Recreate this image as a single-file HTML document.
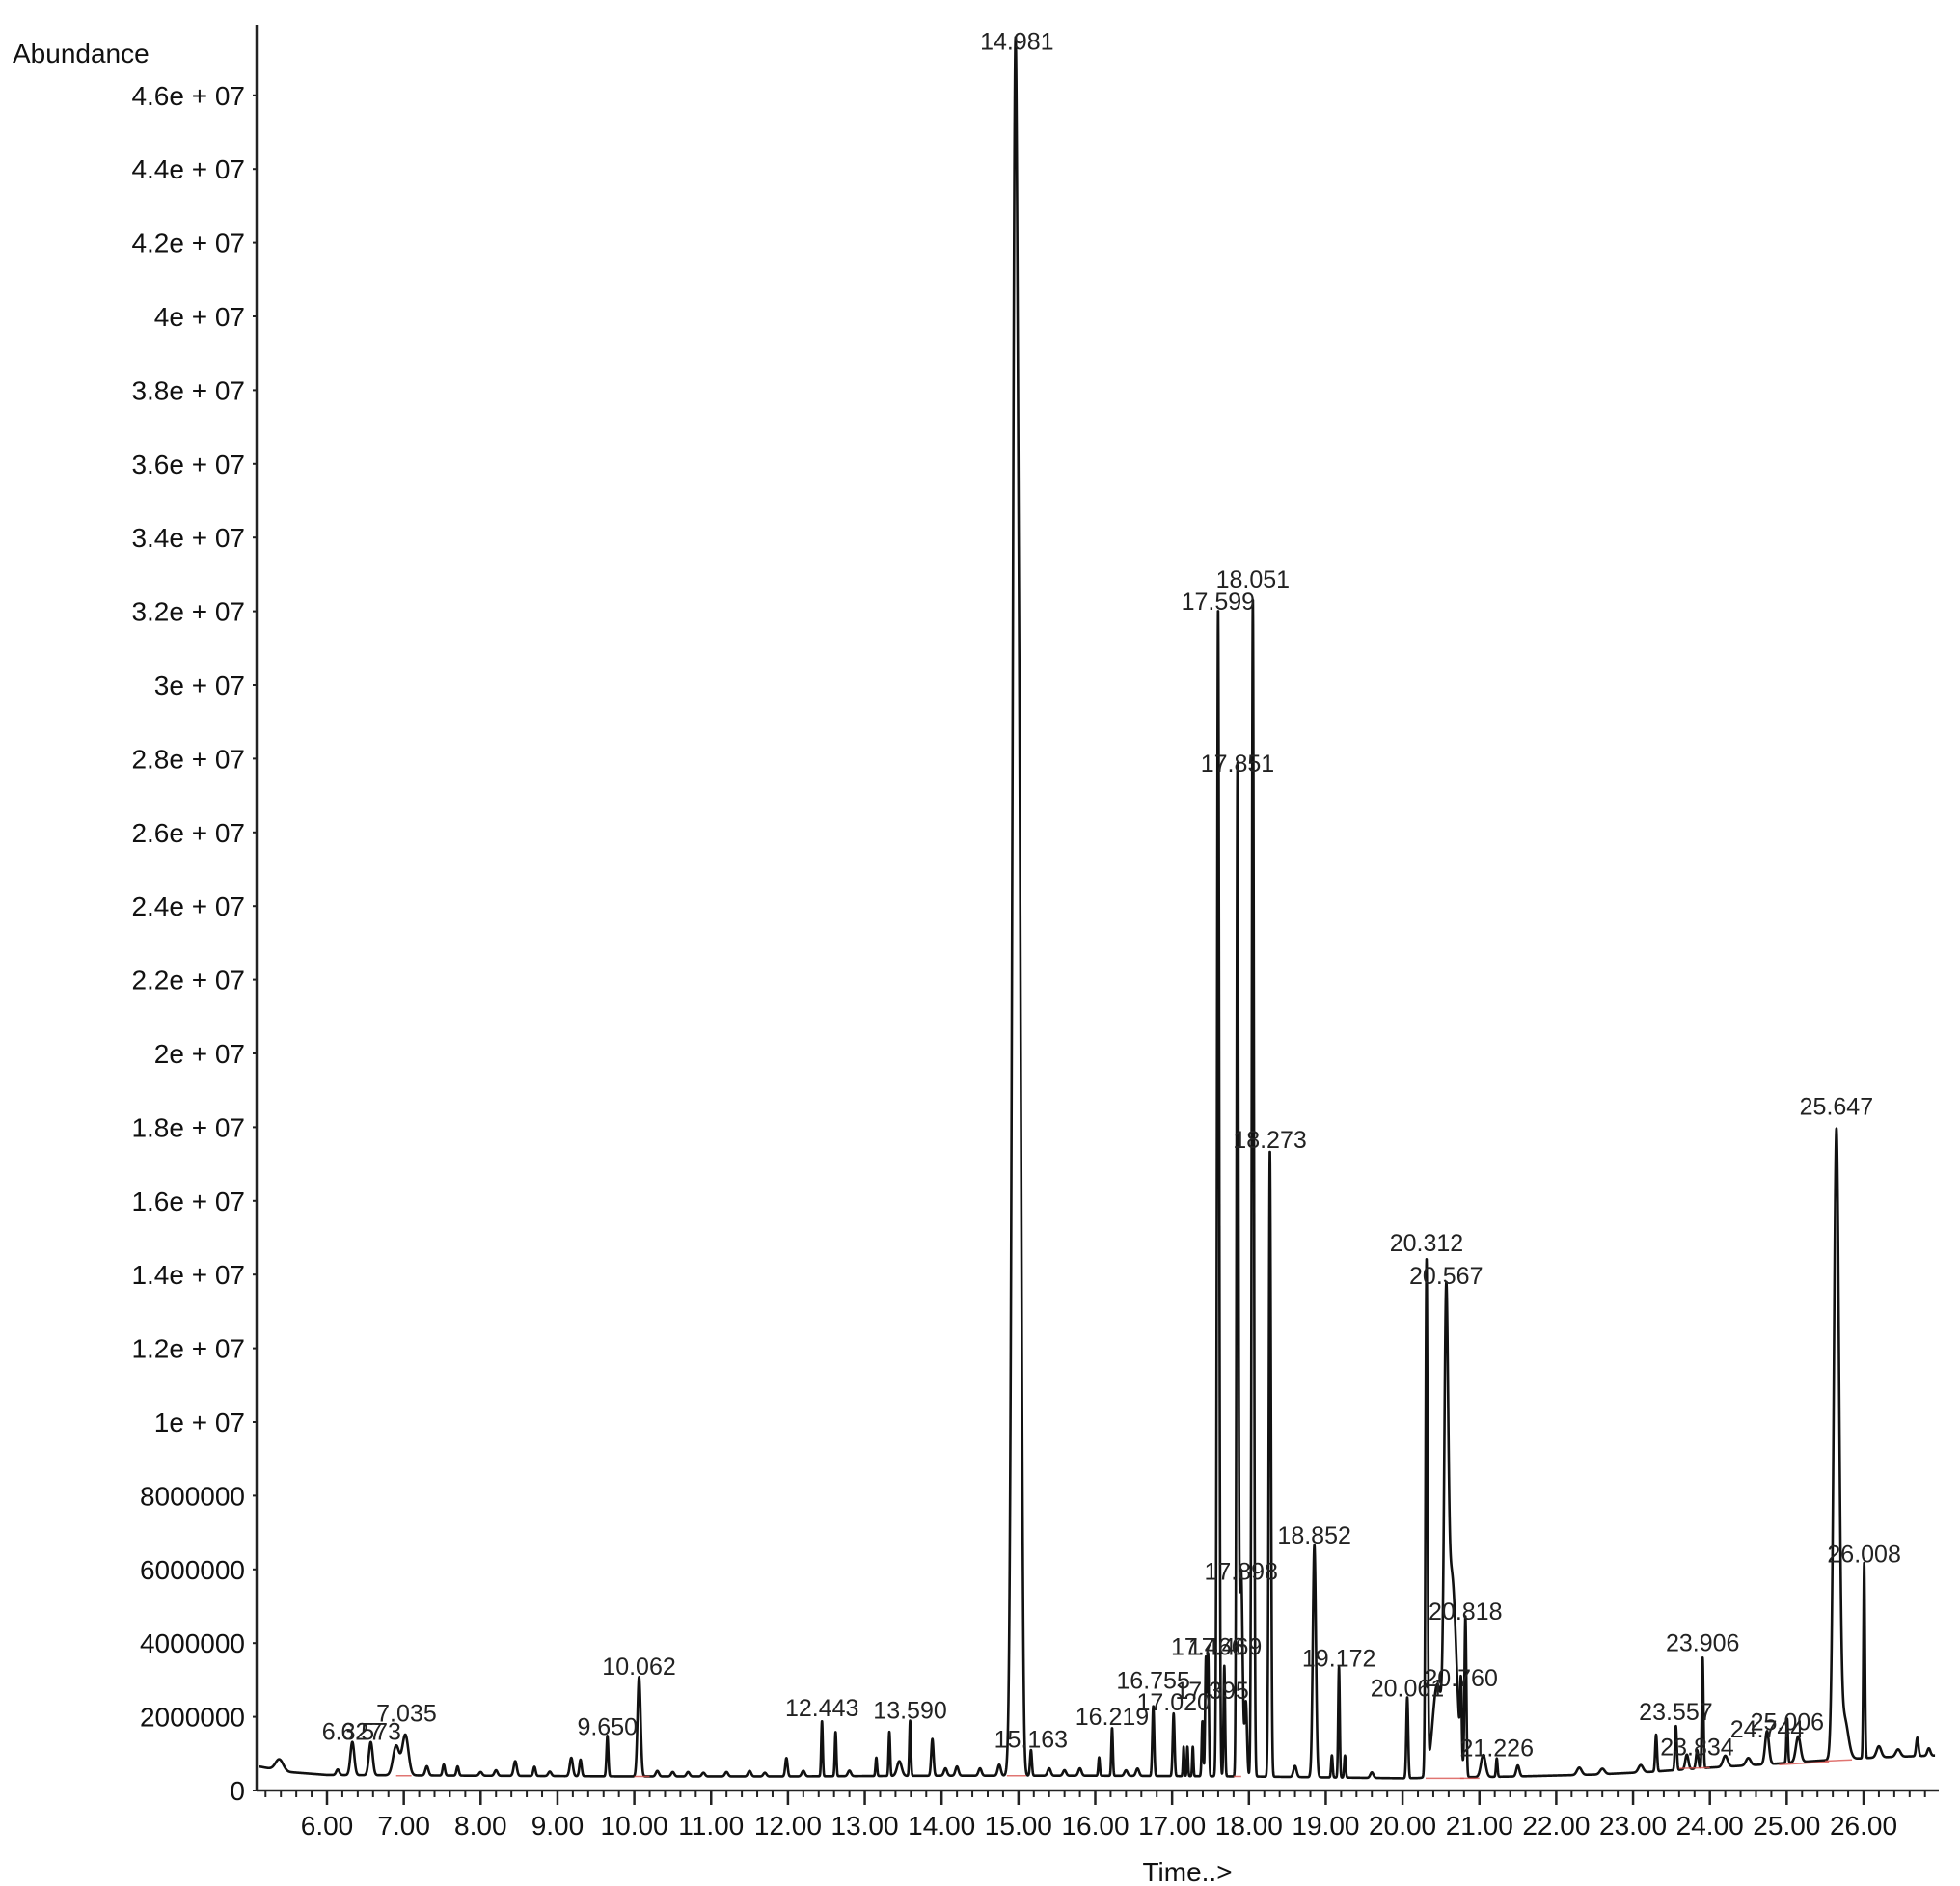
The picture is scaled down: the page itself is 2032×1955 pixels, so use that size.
<!DOCTYPE html>
<html><head><meta charset="utf-8">
<style>
html,body{margin:0;padding:0;background:#fff;}
svg{display:block;}
text{font-family:"Liberation Sans",Arial,sans-serif;}
</style></head>
<body>
<svg id="chart" width="2032" height="1955" viewBox="0 0 2032 1955" xmlns="http://www.w3.org/2000/svg">
<rect x="0" y="0" width="2032" height="1955" fill="#fff"/>
<g id="axes"></g>
<g id="marks"></g>
<g id="labels"></g>
</svg>
<script>
// ---- data ----
const xTicks = [6,7,8,9,10,11,12,13,14,15,16,17,18,19,20,21,22,23,24,25,26];
const yTickValues = [0,2e6,4e6,6e6,8e6,1e7,1.2e7,1.4e7,1.6e7,1.8e7,2e7,2.2e7,2.4e7,2.6e7,2.8e7,3e7,3.2e7,3.4e7,3.6e7,3.8e7,4e7,4.2e7,4.4e7,4.6e7];
const yTickLabels = ["0","2000000","4000000","6000000","8000000","1e + 07","1.2e + 07","1.4e + 07","1.6e + 07","1.8e + 07","2e + 07","2.2e + 07","2.4e + 07","2.6e + 07","2.8e + 07","3e + 07","3.2e + 07","3.4e + 07","3.6e + 07","3.8e + 07","4e + 07","4.2e + 07","4.4e + 07","4.6e + 07"];
// baseline: retention time (min), abundance
const baseTimes = [5.12,5.5,6.0,8.0,10.0,12.0,14.0,16.0,18.0,20.0,21.5,22.5,23.2,24.0,24.8,25.5,26.2,26.93];
const baseValues = [650000,500000,420000,400000,380000,380000,400000,400000,380000,330000,380000,430000,500000,620000,720000,820000,900000,950000];
// peaks: retention time, height above baseline, width (sigma, min)
const peakTimes = [5.38,6.14,6.33,6.57,6.9,7.02,7.3,7.52,7.7,8.0,8.2,8.45,8.7,8.9,9.18,9.3,9.65,10.062,10.3,10.5,10.7,10.9,11.2,11.5,11.7,11.98,12.2,12.443,12.62,12.8,13.15,13.32,13.45,13.59,13.88,14.05,14.2,14.5,14.75,14.96,15.02,15.163,15.4,15.6,15.8,16.05,16.219,16.4,16.55,16.755,17.02,17.15,17.2,17.27,17.395,17.44,17.469,17.599,17.68,17.851,17.898,17.96,18.051,18.273,18.6,18.852,19.08,19.172,19.25,19.6,20.061,20.312,20.45,20.567,20.64,20.76,20.818,21.05,21.226,21.5,22.3,22.6,23.1,23.3,23.557,23.7,23.834,23.906,24.2,24.5,24.744,25.006,25.15,25.647,25.75,26.008,26.2,26.45,26.7,26.85];
const peakHeights = [300000,150000,900000,900000,800000,1100000,250000,300000,250000,100000,150000,400000,250000,120000,500000,450000,1100000,2700000,150000,120000,120000,100000,120000,150000,100000,500000,150000,1500000,1200000,150000,500000,1200000,400000,1500000,1000000,200000,250000,200000,300000,46300000,14000000,700000,200000,150000,200000,500000,1300000,150000,200000,1900000,1700000,800000,800000,800000,1500000,3200000,3300000,31700000,3000000,27200000,5600000,2000000,32000000,17000000,300000,6300000,600000,3000000,600000,150000,2200000,13900000,2500000,10400000,5500000,2000000,4300000,600000,500000,300000,200000,150000,200000,1000000,1200000,400000,500000,3000000,300000,200000,900000,1200000,700000,17000000,1100000,5300000,300000,200000,500000,200000];
const peakWidths = [0.05,0.02,0.025,0.025,0.04,0.04,0.02,0.015,0.015,0.02,0.02,0.02,0.015,0.02,0.02,0.015,0.012,0.02,0.02,0.02,0.02,0.02,0.02,0.02,0.02,0.015,0.02,0.01,0.01,0.02,0.01,0.01,0.03,0.01,0.015,0.02,0.02,0.02,0.02,0.036,0.025,0.012,0.02,0.02,0.02,0.01,0.01,0.02,0.02,0.012,0.012,0.008,0.008,0.008,0.01,0.01,0.01,0.014,0.01,0.012,0.02,0.015,0.014,0.014,0.02,0.02,0.01,0.01,0.01,0.02,0.012,0.013,0.06,0.025,0.06,0.01,0.012,0.03,0.01,0.02,0.03,0.03,0.03,0.012,0.012,0.02,0.015,0.01,0.03,0.03,0.025,0.01,0.03,0.034,0.05,0.01,0.03,0.03,0.015,0.02];
// peak labels: text, retention time, abundance at label
const labelTexts = ["14.981","17.599","18.051","17.851","18.273","20.312","20.567","25.647","26.008","18.852","17.898","20.818","23.906","19.172","17.466","17.469","20.760","16.755","20.061","17.020","17.395","10.062","7.035","12.443","13.590","6.327","6.573","9.650","16.219","23.557","25.006","24.744","15.163","21.226","23.834"];
const labelTimes = [14.981,17.599,18.051,17.851,18.273,20.312,20.567,25.647,26.008,18.852,17.898,20.818,23.906,19.172,17.466,17.69,20.760,16.755,20.061,17.020,17.52,10.062,7.035,12.443,13.590,6.327,6.573,9.650,16.219,23.557,25.006,24.744,15.163,21.226,23.834];
const labelValues = [47500000,32300000,32900000,27900000,17700000,14900000,14000000,18600000,6450000,6960000,5980000,4890000,4040000,3630000,3940000,3940000,3090000,3020000,2820000,2440000,2750000,3400000,2140000,2280000,2210000,1630000,1630000,1770000,2040000,2170000,1900000,1700000,1430000,1190000,1220000];
// integration baselines (red): t1, v1, t2, v2
const intStart = [6.9,10.0,14.85,17.8,20.3,20.75,23.6,24.9,25.5];
const intStartV = [400000,380000,400000,380000,330000,330000,600000,700000,800000];
const intEnd = [7.1,10.2,15.1,17.9,21.0,20.8,24.0,25.55,25.85];
const intEndV = [400000,380000,400000,380000,330000,330000,620000,780000,830000];

// ---- scales ----
const X0 = 339, PX_PER_MIN = 79.65, Y0 = 1856, PX_PER_UNIT = 76.4/2e6;
const T_MIN = 5.12, T_MAX = 26.93;
function xs(t){ return X0 + (t-6)*PX_PER_MIN; }
function ys(v){ return Y0 - v*PX_PER_UNIT; }
const NS = "http://www.w3.org/2000/svg";
function mk(tag, attrs, parent){
  const e = document.createElementNS(NS, tag);
  for (const k in attrs) e.setAttribute(k, attrs[k]);
  parent.appendChild(e); return e;
}
const axes = document.getElementById('axes');
const marks = document.getElementById('marks');
const labels = document.getElementById('labels');

const yAxis = mk('line',{x1:266,y1:26,x2:266,y2:Y0,stroke:'#222','stroke-width':2.5},axes);


const xAxis = mk('line',{x1:266,y1:Y0,x2:2010,y2:Y0,stroke:'#222','stroke-width':2.5},axes);



const yTitle = mk('text',{x:13,y:65,'font-size':28,fill:'#111'},axes);
yTitle.textContent = 'Abundance';


const xTitle = mk('text',{x:1231,y:1950,'font-size':28,fill:'#111','text-anchor':'middle'},axes);
xTitle.textContent = 'Time..>';



yTickValues.forEach((v,i)=>{
  const y = ys(v);
  const tk = mk('line',{x1:262,y1:y,x2:266,y2:y,stroke:'#222','stroke-width':2},axes);
  
  
  const t = mk('text',{x:254,y:y+10,'font-size':28,fill:'#111','text-anchor':'end'},axes);
  t.textContent = yTickLabels[i];
  
  
});
for (let k=Math.ceil(T_MIN*5); k<=Math.floor(T_MAX*5); k++){
  const t = k/5, x = xs(t);
  const major = (k%5===0);
  const tk = mk('line',{x1:x,y1:Y0,x2:x,y2:Y0+(major?15:7),stroke:'#222','stroke-width':major?2.5:2},axes);
  
  
}
xTicks.forEach(t=>{
  const lb = mk('text',{x:xs(t),y:1902,'font-size':28,fill:'#111','text-anchor':'middle'},axes);
  lb.textContent = t.toFixed(2);
  
  
});

function baseAt(t){
  for (let i=0;i<baseTimes.length-1;i++){
    if (t>=baseTimes[i] && t<=baseTimes[i+1]){
      const f=(t-baseTimes[i])/(baseTimes[i+1]-baseTimes[i]);
      return baseValues[i]+f*(baseValues[i+1]-baseValues[i]);
    }
  }
  return baseValues[baseValues.length-1];
}
function signal(t){
  let v = baseAt(t);
  for (let i=0;i<peakTimes.length;i++){
    const d=(t-peakTimes[i])/peakWidths[i];
    if (Math.abs(d)<6) v += peakHeights[i]*Math.exp(-0.5*d*d);
  }
  return v;
}
let d = '';
for (let t=T_MIN; t<=T_MAX; t+=0.002){
  d += (d?'L':'M') + xs(t).toFixed(2) + ' ' + ys(signal(t)).toFixed(2);
}
const trace = mk('path',{d:d,fill:'none',stroke:'#111','stroke-width':2.6,'stroke-linejoin':'round'},marks);



intStart.forEach((t,i)=>{
  const l = mk('line',{x1:xs(t),y1:ys(intStartV[i]),x2:xs(intEnd[i]),y2:ys(intEndV[i]),stroke:'#d9534f','stroke-width':1.5,opacity:0.8},marks);
  
  
});

labelTexts.forEach((s,i)=>{
  const lb = mk('text',{x:xs(labelTimes[i]),y:ys(labelValues[i])+10,'font-size':25,fill:'#222','text-anchor':'middle'},labels);
  lb.textContent = s;
  
  
});
</script>
</body></html>
